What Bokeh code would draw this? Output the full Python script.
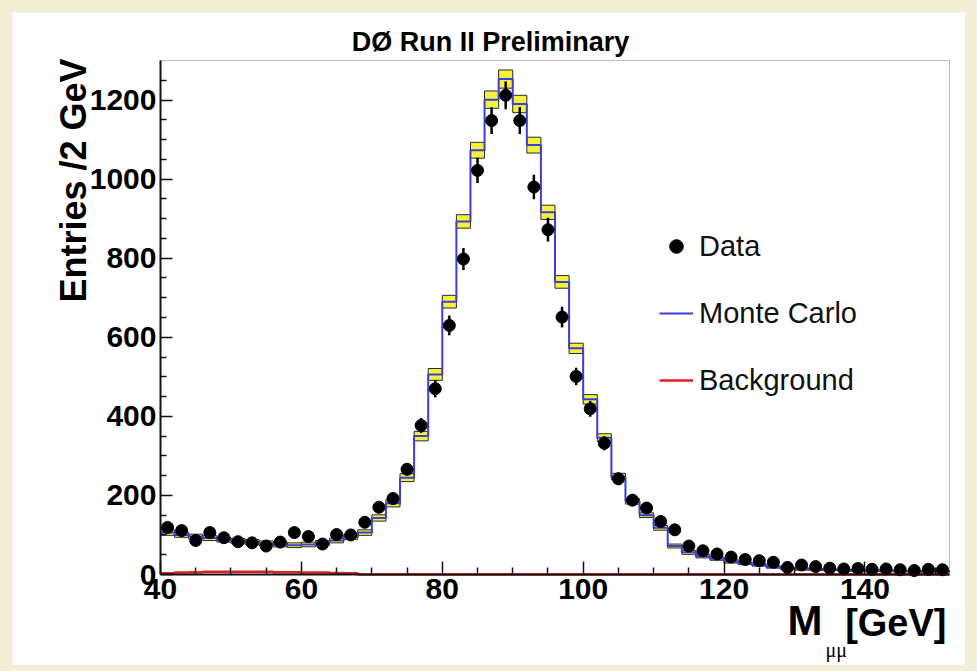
import math
from jinja2 import Template
from bokeh.plotting import figure
from bokeh.models import (ColumnDataSource, FixedTicker, Label, Legend, LegendItem,
                          LinearAxis, Range1d, BoxAnnotation)
from bokeh.embed import file_html
from bokeh.resources import INLINE

# ---- binning: 2 GeV bins from 40 to 152 GeV ----
edges = list(range(40, 154, 2))
centers = [e + 1 for e in edges[:-1]]

# ---- dimuon invariant-mass spectrum (entries per 2 GeV) ----
data = [119, 111, 86, 106, 93, 83, 80, 72, 82, 106,
        96, 77, 101, 100, 132, 170, 192, 266, 377, 470,
        630, 798, 1022, 1148, 1212, 1148, 980, 872, 651, 501,
        419, 332, 242, 188, 168, 134, 113, 72, 60, 52,
        44, 38, 35, 31, 18, 24, 20, 16, 14, 15,
        13, 14, 12, 10, 13, 12]
data_err = [11, 11, 9, 10, 10, 9, 9, 8, 9, 10,
            10, 9, 10, 10, 11, 13, 14, 16, 19, 22,
            25, 28, 32, 34, 35, 34, 31, 30, 26, 22,
            20, 18, 16, 14, 13, 12, 11, 8, 8, 7,
            7, 6, 6, 6, 4, 5, 4, 4, 4, 4,
            4, 4, 3, 3, 4, 3]
mc = [106, 100, 96, 92, 88, 85, 82, 79, 76, 74,
      76, 80, 86, 95, 106, 143, 180, 245, 350, 506,
      690, 893, 1073, 1201, 1253, 1190, 1086, 916, 740, 572,
      443, 346, 248, 185, 150, 118, 72, 56, 46, 40,
      33, 28, 24, 19, 16, 14, 13, 12, 11, 10,
      10, 9, 9, 8, 8, 8]
mc_err = [7, 6, 6, 6, 6, 6, 6, 6, 6, 6,
          6, 6, 6, 6, 7, 8, 9, 10, 12, 15,
          16, 17, 20, 22, 23, 22, 20, 18, 16, 13,
          12, 10, 8, 7, 6, 6, 5, 5, 4, 4,
          4, 3, 3, 3, 3, 3, 2, 2, 2, 2,
          2, 2, 2, 2, 2, 2]
bkg = [3, 5, 6, 7, 7, 7, 7, 7, 6, 6, 5, 5, 4, 3] + [0] * 42

x_ticks = [40, 60, 80, 100, 120, 140]
x_minor = [45, 50, 55, 65, 70, 75, 85, 90, 95, 105, 110, 115, 125, 130, 135, 145, 150]
y_ticks = [0, 200, 400, 600, 800, 1000, 1200]
y_minor = [50, 100, 150, 250, 300, 350, 450, 500, 550, 650, 700, 750,
           850, 900, 950, 1050, 1100, 1150, 1250]

X_LIM = (40, 152)
Y_LIM = (0, 1300)

# ---- page geometry (pixels) ----
PAGE_BG = "#f3efd6"
PANEL_L, PANEL_T, PANEL_R, PANEL_B = 12, 12, 965, 665   # white panel on the page
FL, FR, FT, FB = 160, 949, 60, 574                       # histogram box on the page
FONT = "Liberation Sans"

PX_X = (X_LIM[1] - X_LIM[0]) / (FR - FL)   # GeV per pixel
PX_Y = (Y_LIM[1] - Y_LIM[0]) / (FB - FT)   # entries per pixel


def dx(px):
    return X_LIM[0] + (px - FL) * PX_X


def dy(py):
    return Y_LIM[0] + (FB - py) * PX_Y


# The drawing area covers the whole white panel; the axes sit at fixed
# data locations so that every text lives inside the frame.
p = figure(width=PANEL_R - PANEL_L, height=PANEL_B - PANEL_T,
           x_range=Range1d(dx(PANEL_L), dx(PANEL_R)),
           y_range=Range1d(dy(PANEL_B), dy(PANEL_T)),
           x_axis_type=None, y_axis_type=None,
           output_backend="svg", toolbar_location=None, min_border=0)
p.margin = (PANEL_T, 0, 0, PANEL_L)
p.background_fill_color = "white"
p.border_fill_color = "white"
p.outline_line_color = None

src = ColumnDataSource(dict(
    x=centers, lo=edges[:-1], hi=edges[1:],
    data=data,
    dlo=[d - e for d, e in zip(data, data_err)],
    dhi=[d + e for d, e in zip(data, data_err)],
    mlo=[m - e for m, e in zip(mc, mc_err)],
    mhi=[m + e for m, e in zip(mc, mc_err)],
))

# histogram box
p.add_layout(BoxAnnotation(left=X_LIM[0], right=X_LIM[1], bottom=Y_LIM[0], top=Y_LIM[1],
                           fill_alpha=0, line_color="#222222", line_width=1, level="underlay"))

# MC statistical uncertainty boxes
p.quad(left="lo", right="hi", bottom="mlo", top="mhi", source=src,
       fill_color="#f4f23a", line_color="#2a2a2a", line_width=1)

# MC histogram
mc_line = p.step(x=edges, y=mc + [mc[-1]], mode="after",
                 line_color="#3d3dd9", line_width=2)

# background histogram
bkg_line = p.step(x=edges, y=bkg + [bkg[-1]], mode="after",
                  line_color="#e01f1f", line_width=2.5)

# data with error bars
p.segment(x0="x", y0="dlo", x1="x", y1="dhi", source=src,
          line_color="black", line_width=2.5)
pts = p.scatter(x="x", y="data", source=src, marker="circle", size=12,
                fill_color="black", line_color="black")

# axes pinned to the histogram box
xax = LinearAxis(fixed_location=Y_LIM[0], bounds=X_LIM,
                 ticker=FixedTicker(ticks=x_ticks, minor_ticks=x_minor))
yax = LinearAxis(fixed_location=X_LIM[0], bounds=Y_LIM,
                 ticker=FixedTicker(ticks=y_ticks, minor_ticks=y_minor))
for ax in (xax, yax):
    ax.axis_line_width = 2
    ax.axis_line_color = "#111111"
    ax.major_tick_line_color = "#111111"
    ax.minor_tick_line_color = "#111111"
    ax.major_tick_line_width = 1.5
    ax.minor_tick_line_width = 1.5
    ax.major_tick_out = 0
    ax.minor_tick_out = 0
    ax.major_label_text_font = FONT
    ax.major_label_text_font_size = "30px"
    ax.major_label_text_font_style = "bold"
    ax.major_label_text_color = "black"
xax.major_tick_in = 13
xax.minor_tick_in = 7
yax.major_tick_in = 12
yax.minor_tick_in = 6
xax.major_label_standoff = 4
yax.major_label_standoff = 4
p.add_layout(xax, "below")
p.add_layout(yax, "left")


def text_label(px, py, text, size, **kw):
    """Place a text whose baseline sits at page pixel (px, py)."""
    p.add_layout(Label(x=dx(px), y=dy(py), text=text,
                       text_baseline="alphabetic", text_color="black",
                       text_font_size=f"{size}px", **kw))


# titles (anchor shifted to compensate the renderer's baseline offset)
text_label(490, 41, "D\u00d8 Run II Preliminary", 27,
           text_align="center", text_font=FONT, text_font_style="bold")
text_label(73, 58, "Entries /2 GeV", 36, angle=math.pi / 2,
           text_align="right", text_font=FONT, text_font_style="bold")
text_label(946, 622, "[GeV]", 38,
           text_align="right", text_font=FONT, text_font_style="bold")
text_label(822, 620, "M", 42,
           text_align="right", text_font=FONT, text_font_style="bold")
text_label(825, 649, "\u03bc\u03bc", 20,
           text_align="left", text_font="Liberation Serif")

legend = Legend(items=[
    LegendItem(label="Data", renderers=[pts]),
    LegendItem(label="Monte Carlo", renderers=[mc_line]),
    LegendItem(label="Background", renderers=[bkg_line]),
], location=(659 - PANEL_L, PANEL_B - 397))
legend.label_text_font = FONT
legend.label_text_font_size = "29px"
legend.label_text_color = "#111111"
legend.glyph_width = 34
legend.glyph_height = 34
legend.label_height = 34
legend.label_standoff = 6
legend.spacing = 33
legend.padding = 0
legend.margin = 0
legend.border_line_alpha = 0
legend.background_fill_alpha = 0
p.add_layout(legend)

page = Template("""{% extends base %}
{% block preamble %}<style>html, body { background: """ + PAGE_BG + """; }</style>{% endblock %}
""")

open("out.html", "w").write(file_html(p, INLINE, template=page))
